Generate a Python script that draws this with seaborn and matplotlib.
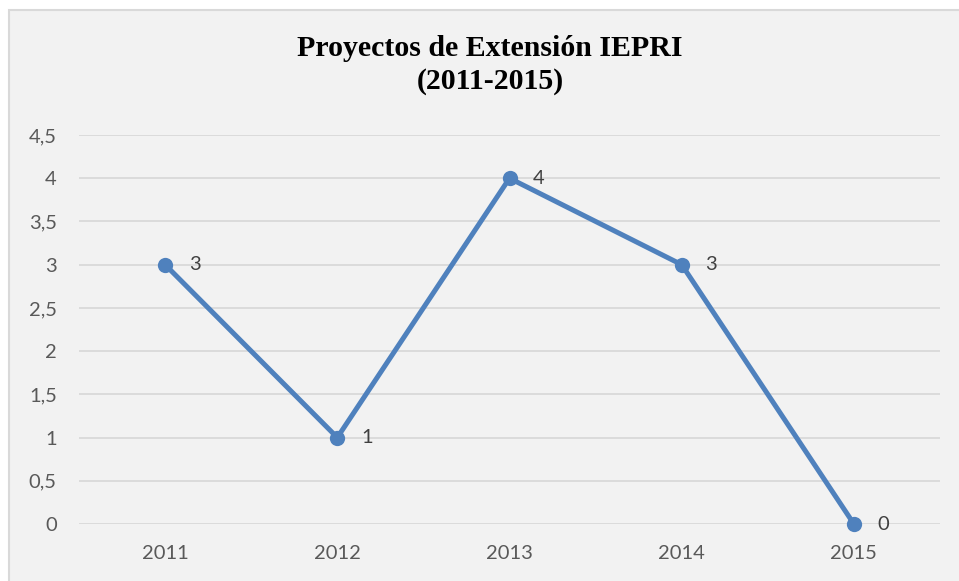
import matplotlib
matplotlib.use("Agg")
import matplotlib.pyplot as plt
import seaborn as sns
import pandas as pd
from matplotlib.patches import Rectangle
from matplotlib.ticker import MultipleLocator, FuncFormatter

years = ["2011", "2012", "2013", "2014", "2015"]
proyectos = [3, 1, 4, 3, 0]
title_text = "Proyectos de Extensión IEPRI\n(2011-2015)"

df = pd.DataFrame({"year": years, "value": proyectos})

sns.set_theme(style="white")
plt.rcParams["font.family"] = ["Lato", "DejaVu Sans"]

W, H = 959, 581
fig = plt.figure(figsize=(W / 100, H / 100), dpi=100, facecolor="white")
# chart area background with border
bg = Rectangle((9 / W, -0.01), 1.0, 1 - 10 / H + 0.01, transform=fig.transFigure,
               facecolor="#F2F2F2", edgecolor="#D9D9D9", linewidth=1.5, zorder=-10)
fig.patches.append(bg)

ax = fig.add_axes([79 / W, 1 - 524 / H, (940 - 79) / W, (524 - 135) / H])
ax.set_zorder(5)
ax.set_facecolor("none")
ax.patch.set_alpha(0)

sns.lineplot(data=df, x="year", y="value", ax=ax, color="#4F81BD", linewidth=3.6,
             marker="o", markersize=11, markeredgewidth=0, zorder=3, sort=False, clip_on=False)

ax.set_xlim(-0.5, 4.5)
ax.set_ylim(0, 4.5)
ax.yaxis.set_major_locator(MultipleLocator(0.5))
ax.yaxis.set_major_formatter(FuncFormatter(lambda v, p: ("%g" % v).replace(".", ",")))
ax.grid(axis="y", color="#D9D9D9", linewidth=1.3)
ax.grid(axis="x", visible=False)
ax.set_axisbelow(True)
for s in ax.spines.values():
    s.set_visible(False)
ax.tick_params(axis="both", length=0, labelsize=14.5, labelcolor="#595959")
ax.tick_params(axis="y", pad=16)
ax.tick_params(axis="x", pad=15)
ax.set_xlabel("")
ax.set_ylabel("")

for i, v in enumerate(proyectos):
    ax.annotate(str(v), (i, v), xytext=(17, 0), textcoords="offset points",
                ha="left", va="center", fontsize=14.5, color="#404040")

fig.text(0.511, 1 - 65 / H, title_text, ha="center", va="center", fontsize=21.5,
         fontweight="bold", family=["Liberation Serif", "DejaVu Serif"], color="#000000",
         linespacing=1.3, zorder=6)

fig.savefig("out.png", dpi=100, facecolor="white")
